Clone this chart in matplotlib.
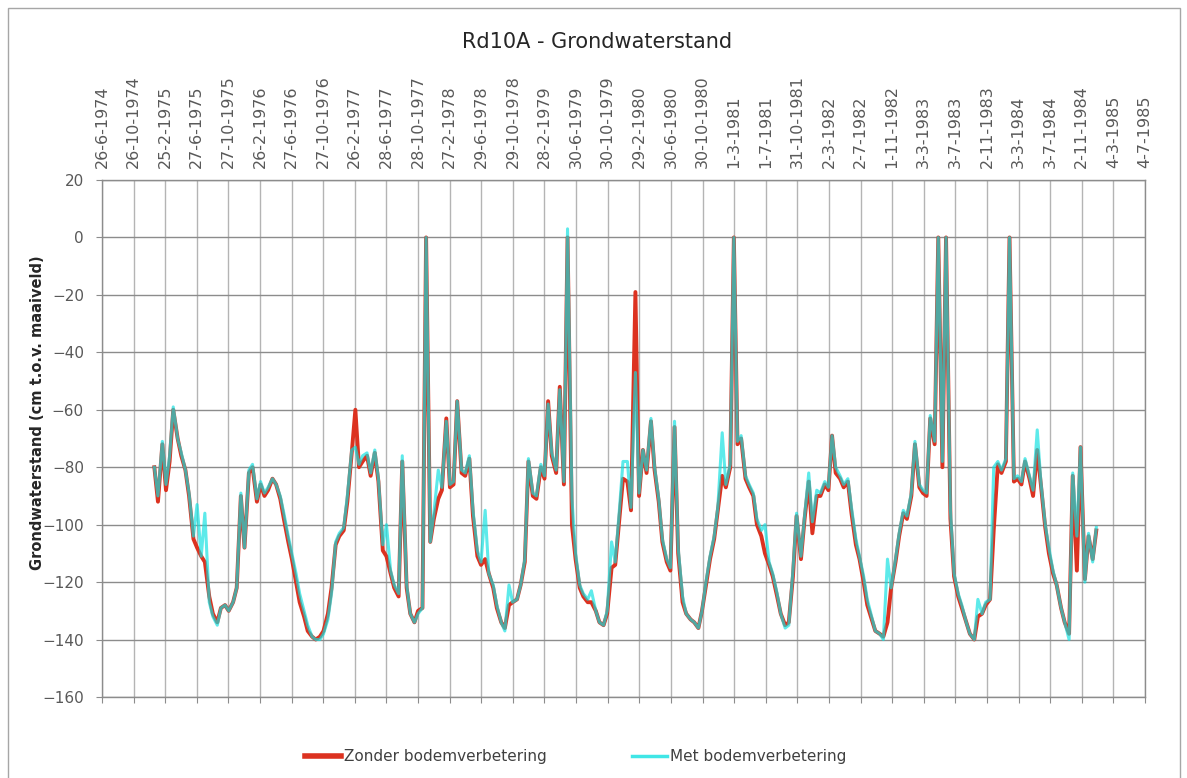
import datetime as dt
import matplotlib
matplotlib.use('Agg')
import matplotlib.pyplot as plt
import matplotlib.dates as mdates
from matplotlib.patches import Rectangle

# date labels along the top axis (every 122 days)
tick_labels = ['26-6-1974', '26-10-1974', '25-2-1975', '27-6-1975', '27-10-1975',
               '26-2-1976', '27-6-1976', '27-10-1976', '26-2-1977', '28-6-1977',
               '28-10-1977', '27-2-1978', '29-6-1978', '29-10-1978', '28-2-1979',
               '30-6-1979', '30-10-1979', '29-2-1980', '30-6-1980', '30-10-1980',
               '1-3-1981', '1-7-1981', '31-10-1981', '2-3-1982', '2-7-1982',
               '1-11-1982', '3-3-1983', '3-7-1983', '2-11-1983', '3-3-1984',
               '3-7-1984', '2-11-1984', '4-3-1985', '4-7-1985']
y_ticks = [20, 0, -20, -40, -60, -80, -100, -120, -140, -160]

# measurements on the 14th and 28th of every month, cm below surface
years = list(range(1975, 1985))

zonder_1975 = [-80, -92, -72, -88, -78, -60, -70, -76, -81, -90, -105, -108,
               -111, -113, -125, -131, -134, -129, -128, -130, -127, -122, -90, -108]
zonder_1976 = [-82, -80, -92, -86, -90, -88, -84, -86, -91, -98, -106, -112,
               -120, -127, -132, -137, -139, -140, -139, -137, -131, -122, -107, -104]
zonder_1977 = [-102, -92, -75, -60, -80, -78, -76, -83, -75, -85, -109, -111,
               -117, -122, -125, -78, -122, -131, -134, -130, -129, 0, -106, -98]
zonder_1978 = [-91, -88, -63, -87, -86, -57, -82, -83, -77, -97, -111, -114,
               -112, -117, -122, -129, -134, -136, -128, -127, -126, -121, -113, -78]
zonder_1979 = [-90, -91, -80, -84, -57, -76, -82, -52, -86, 0, -100, -112,
               -122, -125, -127, -127, -130, -134, -135, -131, -115, -114, -98, -84]
zonder_1980 = [-85, -95, -19, -90, -74, -82, -64, -81, -92, -106, -113, -116,
               -66, -110, -127, -131, -133, -134, -136, -130, -120, -112, -105, -95]
zonder_1981 = [-83, -87, -80, 0, -72, -70, -84, -87, -90, -100, -104, -110,
               -114, -118, -125, -131, -135, -134, -118, -97, -112, -98, -85, -103]
zonder_1982 = [-90, -90, -86, -88, -69, -82, -84, -87, -85, -96, -107, -112,
               -120, -128, -133, -137, -138, -139, -134, -122, -113, -104, -96, -98]
zonder_1983 = [-90, -72, -87, -89, -90, -63, -72, 0, -80, 0, -98, -118,
               -125, -129, -134, -138, -140, -132, -131, -128, -126, -102, -79, -82]
zonder_1984 = [-78, 0, -85, -84, -86, -78, -84, -90, -74, -86, -101, -110,
               -117, -121, -129, -134, -138, -83, -116, -73, -119, -104, -112, -102]

met_1975 = [-80, -90, -71, -86, -76, -59, -70, -75, -81, -89, -104, -93,
            -111, -96, -127, -132, -135, -129, -128, -130, -127, -122, -89, -108]
met_1976 = [-81, -79, -91, -85, -89, -87, -84, -86, -90, -96, -104, -110,
            -117, -124, -130, -135, -139, -140, -140, -138, -133, -124, -106, -103]
met_1977 = [-101, -90, -74, -73, -79, -76, -75, -82, -74, -84, -107, -100,
            -116, -121, -124, -76, -121, -131, -134, -131, -129, 0, -106, -96]
met_1978 = [-81, -87, -64, -86, -85, -57, -81, -82, -76, -95, -109, -113,
            -95, -117, -121, -128, -134, -137, -121, -127, -126, -121, -112, -77]
met_1979 = [-89, -90, -79, -83, -58, -75, -81, -53, -85, 3, -91, -110,
            -121, -124, -126, -123, -130, -134, -135, -130, -106, -113, -95, -78]
met_1980 = [-78, -94, -47, -89, -74, -81, -63, -80, -91, -105, -112, -115,
            -64, -108, -125, -131, -133, -134, -136, -130, -119, -111, -104, -94]
met_1981 = [-68, -86, -79, 0, -71, -69, -83, -86, -89, -98, -102, -100,
            -113, -117, -124, -131, -136, -135, -116, -96, -111, -97, -82, -99]
met_1982 = [-88, -89, -85, -87, -69, -80, -83, -86, -84, -94, -105, -111,
            -118, -126, -132, -137, -138, -140, -112, -122, -112, -103, -95, -97]
met_1983 = [-89, -71, -86, -88, -89, -62, -71, 0, -78, 0, -95, -117,
            -124, -128, -134, -138, -140, -126, -131, -127, -126, -80, -78, -81]
met_1984 = [-77, 0, -84, -83, -85, -77, -83, -88, -67, -85, -100, -108,
            -116, -121, -129, -134, -140, -82, -104, -73, -120, -103, -113, -101]

zonder = (zonder_1975 + zonder_1976 + zonder_1977 + zonder_1978 + zonder_1979 +
          zonder_1980 + zonder_1981 + zonder_1982 + zonder_1983 + zonder_1984)
met = (met_1975 + met_1976 + met_1977 + met_1978 + met_1979 +
       met_1980 + met_1981 + met_1982 + met_1983 + met_1984)

dates = [dt.date(y, m, d) for y in years for m in range(1, 13) for d in (14, 28)]
tick_dates = [dt.datetime.strptime(t, '%d-%m-%Y') for t in tick_labels]

RED = '#dc3220'
CYAN = '#10e0e0'
GRID_H = '#8c8c8c'
GRID_V = '#b4b4b4'
TXT = '#595959'

fig = plt.figure(figsize=(11.87, 7.78), dpi=100)
ax = fig.add_axes([102 / 1187, 1 - 697 / 778, (1145 - 102) / 1187, (697 - 180) / 778])

ax.plot(dates, zonder, color=RED, lw=2.8, label='Zonder bodemverbetering', zorder=3)
ax.plot(dates, met, color=CYAN, lw=2.2, alpha=0.68, label='Met bodemverbetering', zorder=4)

ax.set_xlim(mdates.date2num(tick_dates[0]), mdates.date2num(tick_dates[-1]))
ax.set_ylim(-160, 20)
ax.set_yticks(y_ticks)
ax.set_xticks(mdates.date2num(tick_dates))
ax.set_xticklabels(tick_labels, rotation=90, fontsize=11.5, color=TXT)
ax.tick_params(axis='x', bottom=True, top=False, labelbottom=False, labeltop=True,
               length=4, color=GRID_H, pad=5)
ax.tick_params(axis='y', length=4, color=GRID_H, labelsize=11, labelcolor=TXT, pad=9)

ax.yaxis.grid(True, color=GRID_H, lw=1.0)
ax.xaxis.grid(True, color=GRID_V, lw=1.0)
ax.set_axisbelow(True)
for s in ax.spines.values():
    s.set_color(GRID_H)
    s.set_linewidth(1.0)

fig.text(597 / 1187, 1 - 42 / 778, 'Rd10A - Grondwaterstand', ha='center', va='center',
         fontsize=15, color='#262626')
fig.text(38 / 1187, 1 - 413 / 778, 'Grondwaterstand (cm t.o.v. maaiveld)', rotation=90,
         ha='center', va='center', fontsize=10.5, fontweight='bold', color='#262626')

leg = fig.legend(loc='center', bbox_to_anchor=(576 / 1187, 1 - 757 / 778), ncol=2,
                 frameon=False, fontsize=11, handlelength=2.3, handletextpad=0.2,
                 columnspacing=5.6, labelcolor='#404040')
leg.get_lines()[0].set_linewidth(4)
leg.get_lines()[1].set_linewidth(2.5)
leg.get_lines()[1].set_alpha(0.8)

fig.patches.append(Rectangle((8 / 1187, -0.1), (1180 - 8) / 1187, 1.1 - 8 / 778,
                             transform=fig.transFigure, fill=False, edgecolor='#a6a6a6', lw=1.0))

fig.savefig('out.png', dpi=100)
